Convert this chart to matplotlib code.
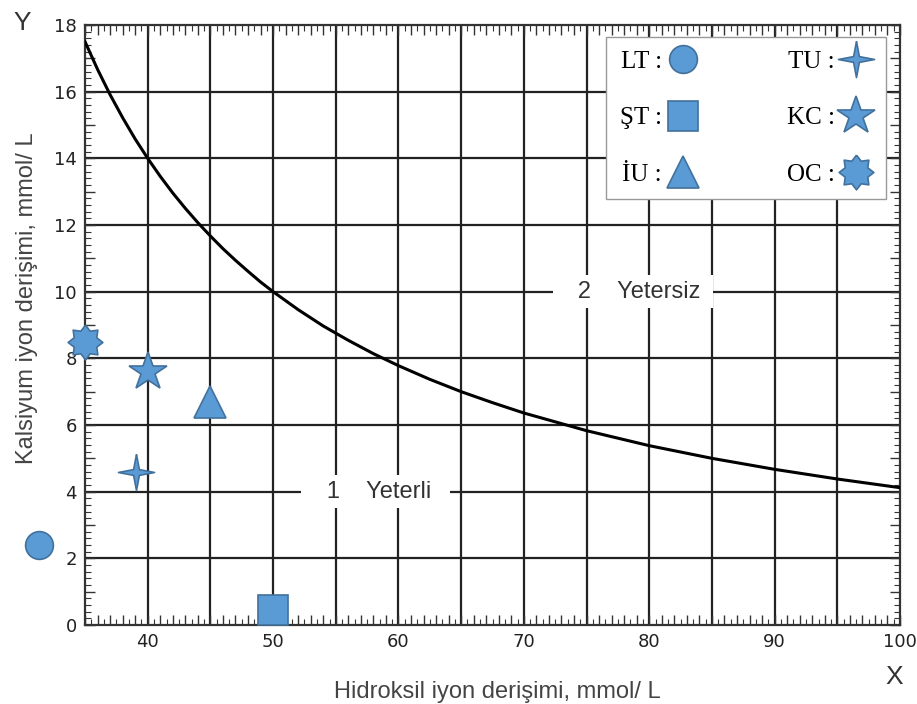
import matplotlib.pyplot as plt
from matplotlib.ticker import MultipleLocator, FuncFormatter
from matplotlib.lines import Line2D

# curve
curve_x = [35, 36, 37, 38, 39, 40, 41, 42, 43, 44, 45, 46, 47, 48, 49, 50,
           52, 54, 56, 58, 60, 62.5, 65, 67.5, 70, 75, 80, 85, 90, 95, 100]
curve_y = [17.5, 16.67, 15.91, 15.22, 14.58, 14.0, 13.46, 12.96, 12.5, 12.07, 11.67, 11.29, 10.94, 10.61, 10.29, 10.0,
           9.46, 8.97, 8.54, 8.14, 7.78, 7.37, 7.0, 6.67, 6.36, 5.83, 5.38, 5.0, 4.67, 4.38, 4.12]

# samples
names = ["LT", "ŞT", "İU", "TU", "KC", "OC"]
oh = [31.3, 50.0, 45.0, 39.1, 40.0, 35.0]
ca = [2.4, 0.45, 6.7, 4.6, 7.6, 8.5]

star4 = [(0, 1), (0.16, 0.16), (1, 0), (0.16, -0.16), (0, -1), (-0.16, -0.16), (-1, 0), (-0.16, 0.16), (0, 1)]
star8 = [(0, 1), (0.27, 0.65), (0.71, 0.71), (0.65, 0.27), (1, 0), (0.65, -0.27), (0.71, -0.71), (0.27, -0.65),
         (0, -1), (-0.27, -0.65), (-0.71, -0.71), (-0.65, -0.27), (-1, 0), (-0.65, 0.27), (-0.71, 0.71),
         (-0.27, 0.65), (0, 1)]
markers = ["o", "s", "^", star4, "*", star8]
sizes = [20, 21, 23, 26, 29, 25]

fill = "#5b9bd5"
edge = "#41719c"

fig = plt.figure(figsize=(9.17, 7.04), dpi=100)
ax = fig.add_axes([0.0927, 0.1122, 0.8888, 0.8523])

ax.set_xlim(35, 100)
ax.set_ylim(0, 18)
ax.xaxis.set_major_locator(MultipleLocator(1))
ax.yaxis.set_major_locator(MultipleLocator(1))
ax.xaxis.set_minor_locator(MultipleLocator(0.5))
ax.yaxis.set_minor_locator(MultipleLocator(0.2))
ax.xaxis.set_major_formatter(FuncFormatter(lambda v, p: "%d" % v if round(v) % 10 == 0 else ""))
ax.yaxis.set_major_formatter(FuncFormatter(lambda v, p: "%d" % v if round(v) % 2 == 0 else ""))
ax.tick_params(which="both", direction="in", top=True, right=True, color="#333333")
ax.tick_params(which="major", length=7, width=1.0, labelsize=13, pad=6, labelcolor="#222222")
ax.tick_params(which="minor", length=4, width=0.8)

# grid lines
for gx in range(40, 100, 5):
    ax.axvline(gx, color="#222222", lw=1.6, zorder=1)
for gy in range(2, 18, 2):
    ax.axhline(gy, color="#222222", lw=1.6, zorder=1)
for s in ax.spines.values():
    s.set_linewidth(1.6)
    s.set_color("#333333")

ax.plot(curve_x, curve_y, color="black", lw=2.2, zorder=3)

ax.text(58.2, 4, "   1    Yeterli  ", family="Liberation Sans", fontsize=17, color="#333333",
        ha="center", va="center", bbox=dict(facecolor="white", edgecolor="none", pad=4), zorder=4)
ax.text(78.7, 10, "   2    Yetersiz ", family="Liberation Sans", fontsize=17, color="#333333",
        ha="center", va="center", bbox=dict(facecolor="white", edgecolor="none", pad=4), zorder=4)

handles = []
for n, x, y, m, s in zip(names, oh, ca, markers, sizes):
    ax.plot([x], [y], marker=m, markersize=s, markerfacecolor=fill, markeredgecolor=edge,
            markeredgewidth=1.2, linestyle="none", clip_on=False, zorder=6)
    handles.append(Line2D([], [], marker=m, markersize=s, markerfacecolor=fill,
                          markeredgecolor=edge, markeredgewidth=1.2, linestyle="none",
                          label=n + " :"))

leg = ax.legend(handles=handles, ncol=2, markerfirst=False, loc="upper right",
                bbox_to_anchor=(0.983, 0.98), borderaxespad=0,
                prop={"family": "Liberation Serif", "size": 18},
                frameon=True, fancybox=False, edgecolor="#999999", framealpha=1,
                columnspacing=3.5, labelspacing=1.35, handlelength=1.3, handletextpad=0.2,
                borderpad=0.55)
leg.set_zorder(7)

fig.text(0.542, 0.009, "Hidroksil iyon derişimi, mmol/ L", family="Liberation Sans", fontsize=17,
         color="#444444", ha="center", va="baseline")
fig.text(0.036, 0.577, "Kalsiyum iyon derişimi, mmol/ L", family="Liberation Sans", fontsize=17,
         color="#444444", rotation=90, ha="center", va="baseline", rotation_mode="anchor")
fig.text(0.024, 0.968, "Y", family="Liberation Sans", fontsize=19, color="#333333", ha="center", va="center")
fig.text(0.975, 0.038, "X", family="Liberation Sans", fontsize=19, color="#333333", ha="center", va="center")

fig.savefig("out.png")
